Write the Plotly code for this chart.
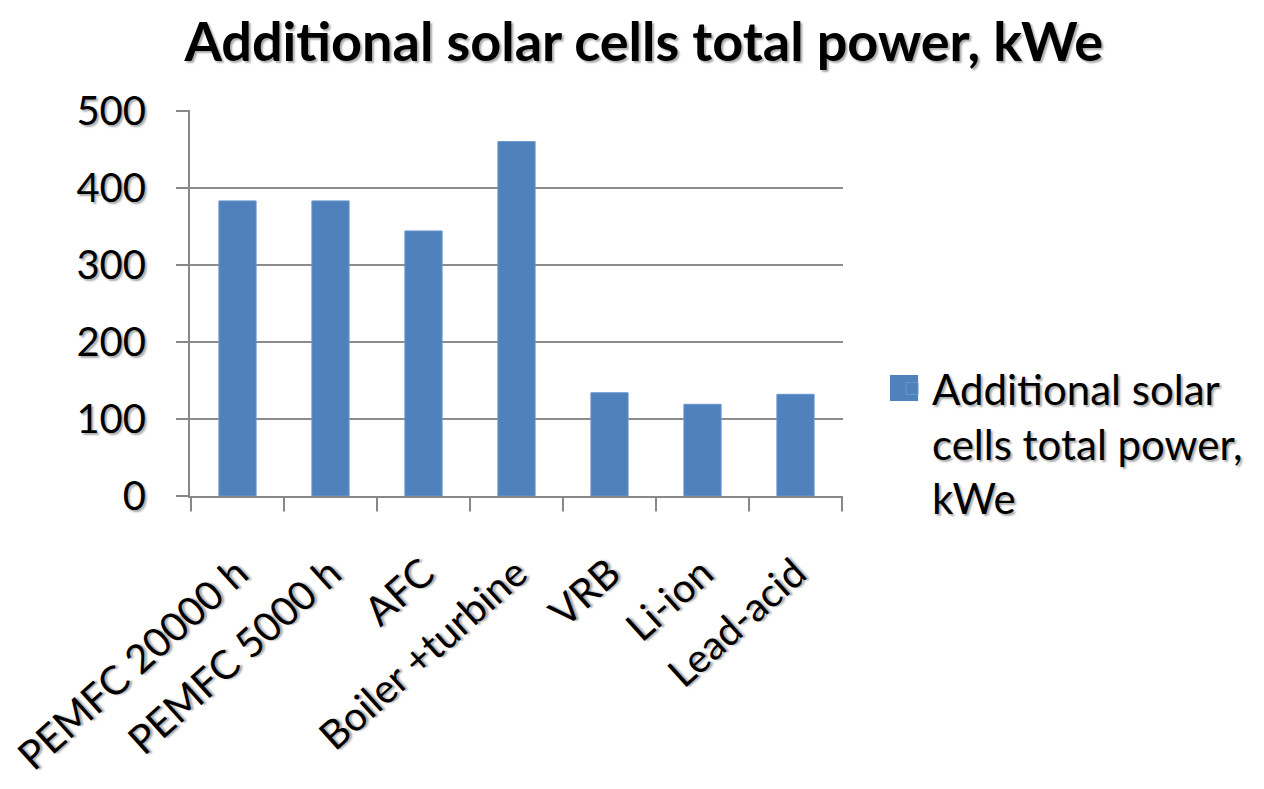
import plotly.graph_objects as go

categories = ["PEMFC 20000 h", "PEMFC 5000 h", "AFC", "Boiler +turbine", "VRB", "Li-ion", "Lead-acid"]
values = [383, 383, 344, 460, 134, 119, 132]
series_name = "Additional solar<br>cells total power,<br>kWe"
title_text = "Additional solar cells total power, kWe"
y_ticks = [0, 100, 200, 300, 400, 500]

FONT = "Lato, Open Sans, sans-serif"
SHADOW = "2px 2px 2px #aaaaaa"
BAR = "#4f81bd"
AXIS = "#888888"

fig = go.Figure()
fig.add_trace(go.Bar(
    x=categories, y=values, name=series_name,
    marker=dict(color=BAR, line=dict(color="#6a95cc", width=1)),
))

# visible category-boundary tick marks (drawn on the x axis scale)
for i in range(len(categories) + 1):
    fig.add_shape(type="line", xref="x", yref="paper",
                  x0=i - 0.5, x1=i - 0.5, y0=0, y1=-0.04,
                  line=dict(color=AXIS, width=2), layer="above")

# enlarged legend key (square) under the native legend symbol
fig.add_shape(type="rect", xref="paper", yref="paper",
              x0=1.072, x1=1.115, y0=0.246, y1=0.3135,
              fillcolor=BAR, line=dict(width=0), layer="above")

fig.update_layout(
    width=1264, height=789,
    paper_bgcolor="white", plot_bgcolor="white",
    margin=dict(l=182, r=429, t=102, b=301),
    bargap=0.6,
    title=dict(text="<b>" + title_text + "</b>", x=0.503, xanchor="center", y=0.957, yanchor="middle",
               xref="container", yref="container",
               font=dict(family=FONT, size=54, color="black", shadow=SHADOW)),
    showlegend=True,
    legend=dict(x=1.075, y=0.366, xanchor="left", yanchor="top", valign="top",
                font=dict(family=FONT, size=42, color="black", shadow=SHADOW),
                bgcolor="rgba(0,0,0,0)"),
    xaxis=dict(
        tickangle=-42, tickfont=dict(family=FONT, size=40, color="black", shadow=SHADOW),
        showline=True, linecolor=AXIS, linewidth=2,
        ticks="outside", ticklen=36, tickcolor="rgba(0,0,0,0)", tickwidth=1,
        showgrid=False, automargin=False,
    ),
    yaxis=dict(
        range=[0, 501], tickvals=y_ticks,
        tickfont=dict(family=FONT, size=40, color="black", shadow=SHADOW),
        showgrid=True, gridcolor="#8c8c8c", gridwidth=2,
        showline=True, linecolor=AXIS, linewidth=2,
        ticks="outside", ticklen=12, tickcolor=AXIS, tickwidth=2,
        ticklabelstandoff=22, zeroline=False, automargin=False,
    ),
)

fig.write_html("out.html")
